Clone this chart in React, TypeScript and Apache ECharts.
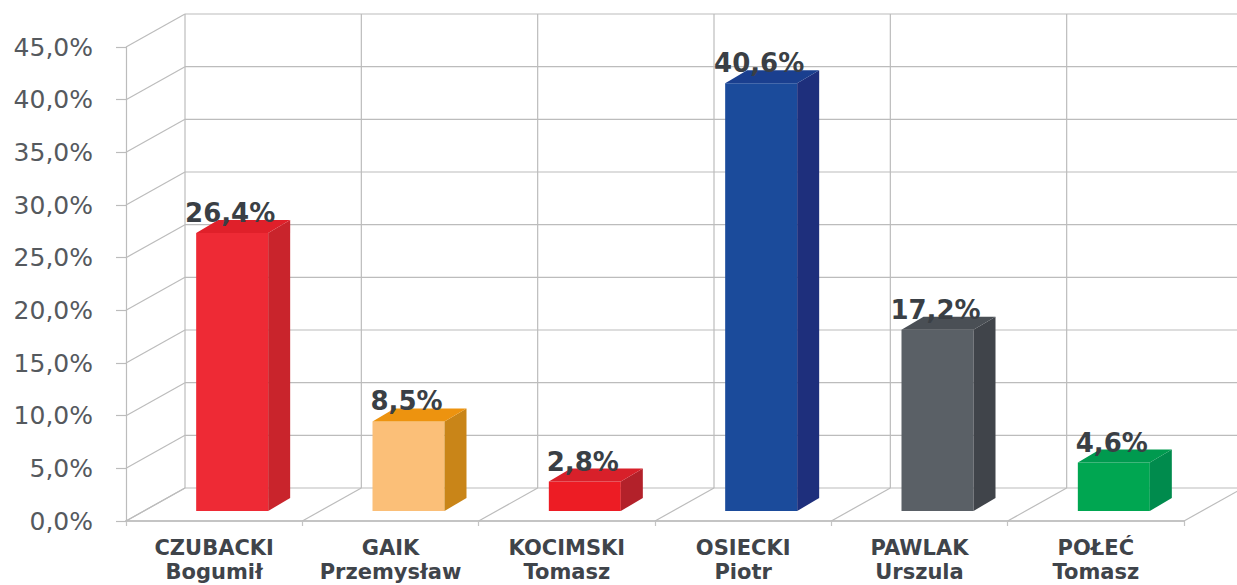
import React, { useEffect, useRef } from "react";
import * as echarts from "echarts";

const surnames = ["CZUBACKI", "GAIK", "KOCIMSKI", "OSIECKI", "PAWLAK", "POŁEĆ"];
const firstNames = ["Bogumił", "Przemysław", "Tomasz", "Piotr", "Urszula", "Tomasz"];
const values = [26.4, 8.5, 2.8, 40.6, 17.2, 4.6];
const yTicks = [0, 5, 10, 15, 20, 25, 30, 35, 40, 45];
const frontColors = ["#ee2a35", "#fbbf78", "#ed1c24", "#1b4b9b", "#5a6066", "#00a651"];
const sideColors = ["#c9242c", "#c98518", "#b3212a", "#1e2f7c", "#40444a", "#008b4d"];
const topColors = ["#e0202a", "#ed930f", "#d8202a", "#1a3f8f", "#4a4f55", "#009a4f"];

const categories = surnames.map((s, i) => `{a|${s}}\n{b|${firstNames[i]}}`);
const WALL_DX = 59;
const WALL_DY = -33;
const BAR_DX = 18;
const BAR_DY = -10;
const DEPTH_DX = 22;
const DEPTH_DY = -13;
const BAR_WIDTH = 72;
const GRID_COLOR = "#bcbcbc";

const fmt = (v: number) => v.toFixed(1).replace(".", ",") + "%";

function wallRows(_: any, api: any) {
  const [x, y] = api.coord([0, api.value(1)]);
  const left = x - api.size([1, 0])[0] / 2;
  const style = { stroke: GRID_COLOR, lineWidth: 1.2, fill: "none" };
  return {
    type: "group",
    children: [
      { type: "line", shape: { x1: left, y1: y, x2: left + WALL_DX, y2: y + WALL_DY }, style },
      { type: "line", shape: { x1: left + WALL_DX, y1: y + WALL_DY, x2: 1300, y2: y + WALL_DY }, style },
    ],
  };
}

function wallColumns(params: any, api: any) {
  const [x, y] = api.coord([api.value(0), 0]);
  const top = api.coord([api.value(0), 45])[1];
  const band = api.size([1, 0])[0];
  const style = { stroke: GRID_COLOR, lineWidth: 1.2, fill: "none" };
  const children: any[] = [];
  const edges = params.dataIndex === surnames.length - 1 ? [x - band / 2, x + band / 2] : [x - band / 2];
  edges.forEach((left) => {
    children.push({ type: "line", shape: { x1: left, y1: y, x2: left + WALL_DX, y2: y + WALL_DY }, style });
    children.push({ type: "line", shape: { x1: left + WALL_DX, y1: y + WALL_DY, x2: left + WALL_DX, y2: top + WALL_DY }, style });
  });
  return { type: "group", children };
}

function bar3d(params: any, api: any) {
  const i = params.dataIndex;
  const v = api.value(1);
  const [cx, y0] = api.coord([api.value(0), 0]);
  const y1 = api.coord([api.value(0), v])[1];
  const l = cx + BAR_DX - BAR_WIDTH / 2;
  const r = l + BAR_WIDTH;
  const b = y0 + BAR_DY;
  const t = y1 + BAR_DY;
  return {
    type: "group",
    children: [
      { type: "polygon", shape: { points: [[l, b], [r, b], [r, t], [l, t]] }, style: { fill: frontColors[i] } },
      { type: "polygon", shape: { points: [[r, b], [r + DEPTH_DX, b + DEPTH_DY], [r + DEPTH_DX, t + DEPTH_DY], [r, t]] }, style: { fill: sideColors[i] } },
      { type: "polygon", shape: { points: [[l, t], [r, t], [r + DEPTH_DX, t + DEPTH_DY], [l + DEPTH_DX, t + DEPTH_DY]] }, style: { fill: topColors[i] } },
      {
        type: "text",
        style: {
          text: fmt(v),
          x: cx + BAR_DX - 2,
          y: t + DEPTH_DY - 7,
          align: "center",
          verticalAlign: "middle",
          font: 'bold 26px "DejaVu Sans"',
          fill: "#3a3f45",
        },
      },
    ],
  };
}

export default function App() {
  const ref = useRef<HTMLDivElement>(null);
  useEffect(() => {
    document.body.style.margin = "0";
    document.body.style.overflow = "hidden";
    const chart = echarts.init(ref.current!, undefined, { renderer: "svg" });
    chart.setOption({
      animation: false,
      backgroundColor: "#ffffff",
      grid: { left: 126, top: 47, width: 1058, height: 474, outerBoundsMode: "none" },
      xAxis: {
        type: "category",
        data: categories,
        axisLine: { show: true, lineStyle: { color: "#c4c4c4", width: 2 } },
        axisTick: { show: true, length: 5, lineStyle: { color: "#c4c4c4", width: 1.2 } },
        axisLabel: {
          margin: 15,
          interval: 0,
          rich: {
            a: { fontFamily: "DejaVu Sans", fontWeight: "bold", fontSize: 21, color: "#3f444a", lineHeight: 24, align: "center" },
            b: { fontFamily: "DejaVu Sans", fontWeight: "bold", fontSize: 21, color: "#3f444a", lineHeight: 24, align: "center" },
          },
        },
        splitLine: { show: false },
      },
      yAxis: {
        type: "value",
        min: 0,
        max: 45,
        interval: 5,
        axisLine: { show: true, lineStyle: { color: "#bcbcbc", width: 1.2 } },
        axisTick: { show: true, length: 10, lineStyle: { color: "#bcbcbc", width: 1.2 } },
        axisLabel: {
          margin: 33,
          formatter: (v: number) => fmt(v),
          fontFamily: "DejaVu Sans",
          fontSize: 25,
          color: "#55595e",
        },
        splitLine: { show: false },
      },
      series: [
        { type: "custom", renderItem: wallRows, data: yTicks.map((v) => [0, v]), encode: { x: 0, y: 1 }, silent: true, z: 1 },
        { type: "custom", renderItem: wallColumns, data: surnames.map((_, i) => [i, 0]), encode: { x: 0, y: 1 }, silent: true, z: 1 },
        { type: "custom", renderItem: bar3d, data: values.map((v, i) => [i, v]), encode: { x: 0, y: 1 }, silent: true, z: 3 },
      ],
    });
    return () => chart.dispose();
  }, []);
  return <div ref={ref} style={{ width: 1237, height: 585 }} />;
}
